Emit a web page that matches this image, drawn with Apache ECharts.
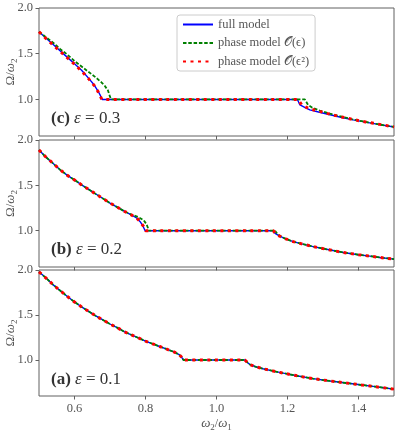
<!DOCTYPE html>
<html>
<head>
<meta charset="utf-8">
<script src="https://cdn.jsdelivr.net/npm/echarts@6/dist/echarts.min.js"></script>
<style>
  html, body { margin: 0; padding: 0; background: #fff; }
  #chart { width: 399px; height: 432px; }
</style>
</head>
<body>
<div id="chart"></div>
<script>
const xTicks = [0.6, 0.8, 1.0, 1.2, 1.4];
const yTicks = [1.0, 1.5, 2.0];
const seriesNames = ['full model', 'phase model 𝒪(ϵ)', 'phase model 𝒪(ϵ²)'];
const panelTags = ['(c)', '(b)', '(a)'];
const epsValues = ['0.3', '0.2', '0.1'];

// (c) eps = 0.3
const fullC = [[0.50,1.74],[0.52,1.67],[0.54,1.60],[0.56,1.53],[0.58,1.46],[0.60,1.39],[0.62,1.32],[0.64,1.23],[0.655,1.16],[0.665,1.10],[0.672,1.05],[0.678,1.00],
  [1.228,1.00],[1.235,0.94],[1.25,0.91],[1.263,0.886],[1.29,0.86],[1.32,0.832],[1.35,0.805],[1.385,0.777],[1.42,0.752],[1.46,0.725],[1.50,0.698]];
const firstC = [[0.50,1.74],[0.52,1.68],[0.54,1.62],[0.56,1.55],[0.58,1.49],[0.60,1.42],[0.62,1.36],[0.64,1.30],[0.66,1.24],[0.675,1.19],[0.685,1.15],[0.694,1.10],[0.70,1.03],[0.703,1.00],
  [1.249,1.00],[1.258,0.94],[1.27,0.91],[1.291,0.878],[1.32,0.845],[1.338,0.825],[1.38,0.785],[1.432,0.745],[1.46,0.725],[1.50,0.70]];
const secondC = [[0.50,1.74],[0.52,1.665],[0.54,1.595],[0.56,1.525],[0.58,1.455],[0.60,1.385],[0.62,1.31],[0.64,1.225],[0.655,1.155],[0.665,1.095],[0.672,1.04],[0.677,1.00],
  [1.23,1.00],[1.24,0.94],[1.26,0.90],[1.29,0.87],[1.32,0.838],[1.35,0.81],[1.385,0.78],[1.42,0.754],[1.46,0.727],[1.50,0.70]];

// (b) eps = 0.2
const fullB = [[0.50,1.89],[0.52,1.81],[0.54,1.74],[0.56,1.67],[0.58,1.61],[0.60,1.56],[0.62,1.505],[0.64,1.455],[0.66,1.405],[0.68,1.355],[0.70,1.305],[0.72,1.26],[0.74,1.215],[0.76,1.175],[0.775,1.14],[0.785,1.10],[0.793,1.05],[0.799,1.00],
  [1.159,1.00],[1.165,0.97],[1.178,0.94],[1.195,0.91],[1.216,0.88],[1.24,0.855],[1.272,0.825],[1.31,0.795],[1.357,0.76],[1.40,0.735],[1.432,0.72],[1.46,0.705],[1.50,0.687]];
const firstB = [[0.50,1.89],[0.52,1.81],[0.54,1.74],[0.56,1.67],[0.58,1.61],[0.60,1.56],[0.62,1.505],[0.64,1.455],[0.66,1.405],[0.68,1.355],[0.70,1.305],[0.72,1.26],[0.74,1.215],[0.76,1.178],[0.78,1.15],[0.795,1.115],[0.803,1.07],[0.807,1.03],[0.809,1.00],
  [1.165,1.00],[1.172,0.96],[1.18,0.94],[1.195,0.91],[1.216,0.88],[1.24,0.855],[1.272,0.825],[1.31,0.795],[1.357,0.76],[1.40,0.735],[1.432,0.72],[1.46,0.705],[1.50,0.687]];
const secondB = [[0.50,1.89],[0.52,1.81],[0.54,1.74],[0.56,1.67],[0.58,1.61],[0.60,1.56],[0.62,1.505],[0.64,1.455],[0.66,1.405],[0.68,1.355],[0.70,1.305],[0.72,1.26],[0.74,1.215],[0.76,1.175],[0.775,1.14],[0.785,1.10],[0.794,1.05],[0.80,1.00],
  [1.16,1.00],[1.166,0.97],[1.178,0.94],[1.195,0.91],[1.216,0.88],[1.24,0.855],[1.272,0.825],[1.31,0.795],[1.357,0.76],[1.40,0.735],[1.432,0.72],[1.46,0.705],[1.50,0.687]];

// (a) eps = 0.1 (all three models coincide)
const fullA = [[0.50,1.98],[0.52,1.91],[0.54,1.835],[0.56,1.77],[0.58,1.705],[0.60,1.645],[0.62,1.59],[0.64,1.54],[0.66,1.49],[0.68,1.445],[0.70,1.40],[0.72,1.36],[0.74,1.315],[0.76,1.28],[0.78,1.245],[0.80,1.21],[0.82,1.18],[0.84,1.15],[0.86,1.12],[0.88,1.09],[0.895,1.06],[0.902,1.03],[0.907,1.00],
  [1.080,1.00],[1.088,0.97],[1.094,0.95],[1.11,0.925],[1.131,0.903],[1.16,0.877],[1.188,0.854],[1.23,0.822],[1.272,0.793],[1.32,0.767],[1.366,0.744],[1.41,0.722],[1.441,0.707],[1.47,0.692],[1.50,0.676]];
const firstA = fullA;
const secondA = fullA;

const panelData = [[fullC, firstC, secondC], [fullB, firstB, secondB], [fullA, firstA, secondA]];

const axisGrey = '#606060';
const textGrey = '#555';
const serif = 'Liberation Serif, DejaVu Serif, serif';

const grids = [
  { left: 39, top: 8, width: 355, height: 128 },
  { left: 39, top: 140, width: 355, height: 127 },
  { left: 39, top: 270, width: 355, height: 126 }
].map(g => ({ ...g, show: true, borderColor: axisGrey, borderWidth: 1, backgroundColor: 'transparent', containLabel: false, outerBoundsMode: 'none' }));

const subRich = {
  i: { fontStyle: 'italic', fontSize: 13, fontFamily: serif, color: textGrey },
  s: { fontSize: 9, fontFamily: serif, color: textGrey, verticalAlign: 'bottom', padding: [7, 0, 0, 0] }
};

const xAxes = grids.map((g, i) => ({
  type: 'value', gridIndex: i, min: 0.5, max: 1.5,
  axisLine: { show: false },
  splitLine: { show: false },
  axisTick: { show: true, inside: false, length: 3.5, lineStyle: { color: axisGrey }, customValues: xTicks },
  axisLabel: {
    show: i === 2, customValues: xTicks, color: textGrey, fontFamily: serif, fontSize: 12.5, margin: 6,
    formatter: v => v.toFixed(1)
  },
  name: i === 2 ? '{i|ω}{s|2}/{i|ω}{s|1}' : '',
  nameLocation: 'middle', nameGap: 20, nameMoveOverlap: false,
  nameTextStyle: { color: textGrey, fontFamily: serif, fontSize: 12, rich: subRich }
}));

const yAxes = grids.map((g, i) => ({
  type: 'value', gridIndex: i, min: 0.6, max: 2.0,
  axisLine: { show: false },
  splitLine: { show: false },
  axisTick: { show: true, inside: false, length: 3.5, lineStyle: { color: axisGrey }, customValues: yTicks },
  axisLabel: { customValues: yTicks, color: textGrey, fontFamily: serif, fontSize: 12.5, margin: 6, formatter: v => v.toFixed(1) },
  name: 'Ω/{i|ω}{s|2}',
  nameLocation: 'middle', nameRotate: 90, nameGap: 20, nameMoveOverlap: false,
  nameTextStyle: { color: textGrey, fontFamily: serif, fontSize: 13, rich: subRich }
}));

const styles = [
  { color: '#0000ff', width: 1.4, type: 'solid' },
  { color: '#008000', width: 1.8, type: [3.5, 1.8] },
  { color: '#ff0000', width: 3, type: [3, 4.5] }
];

const series = [];
panelData.forEach((sets, i) => {
  sets.forEach((pts, k) => {
    series.push({
      name: seriesNames[k], type: 'line', xAxisIndex: i, yAxisIndex: i,
      data: pts, showSymbol: false, symbol: 'none', animation: false,
      lineStyle: styles[k], itemStyle: { color: styles[k].color }, z: 2 + k
    });
  });
});

const titleTops = [105, 236, 366];
const titles = panelTags.map((tag, i) => ({
  text: '{b|' + tag + '} {i|ε} = ' + epsValues[i],
  left: 46, top: titleTops[i],
  textStyle: {
    color: '#333', fontFamily: serif, fontSize: 17, fontWeight: 'normal',
    rich: { b: { fontWeight: 'bold', fontSize: 17, fontFamily: serif, color: '#333' },
            i: { fontStyle: 'italic', fontSize: 17, fontFamily: serif, color: '#333' } }
  }
}));

const chart = echarts.init(document.getElementById('chart'));
chart.setOption({
  animation: false,
  title: titles,
  grid: grids,
  xAxis: xAxes,
  yAxis: yAxes,
  legend: {
    data: seriesNames, orient: 'vertical', left: 177, top: 15,
    itemWidth: 30, itemHeight: 14, itemGap: 5.5,
    padding: [3, 6, 3, 5],
    itemStyle: { opacity: 0 },
    backgroundColor: 'rgba(255,255,255,0.8)', borderColor: '#ccc', borderWidth: 1, borderRadius: 3,
    textStyle: { color: textGrey, fontFamily: serif, fontSize: 12.5 }
  },
  series: series
});
</script>
</body>
</html>
